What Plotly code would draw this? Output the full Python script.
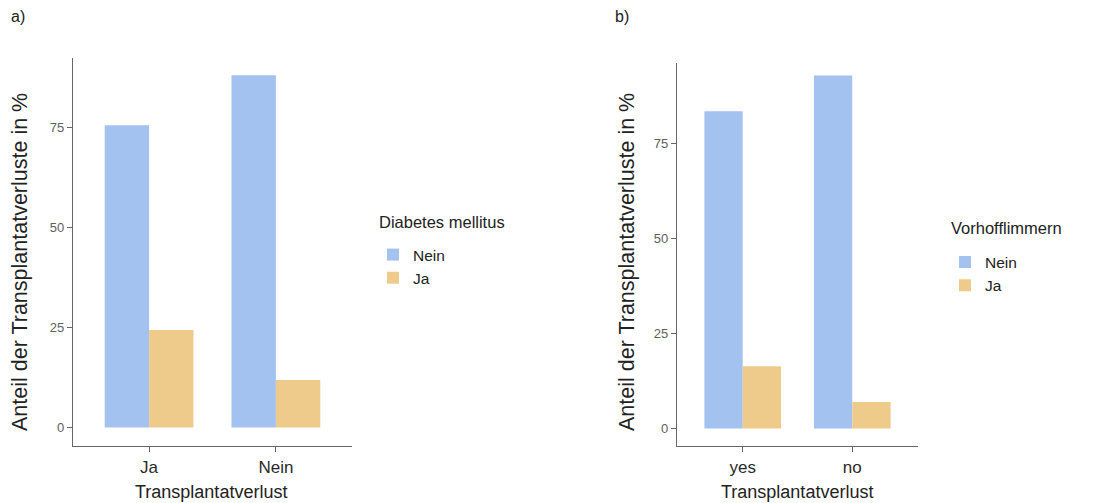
import plotly.graph_objects as go

# Data
cats_a = ["Ja", "Nein"]
nein_a = [75.6, 88.1]
ja_a = [24.4, 11.9]

cats_b = ["yes", "no"]
nein_b = [83.6, 93.0]
ja_b = [16.4, 7.0]

series_names = ["Nein", "Ja"]
legend_titles = ["Diabetes mellitus", "Vorhofflimmern"]
y_ticks = [0, 25, 50, 75]
panel_labels = ["a)", "b)"]
x_title = "Transplantatverlust"
y_title = "Anteil der Transplantatverluste in %"

BLUE = "#A4C2EF"
ORANGE = "#EFCB8B"
FONT = "Liberation Sans, Arial, sans-serif"
W, H = 1106, 503

fig = go.Figure()
fig.add_trace(go.Bar(x=cats_a, y=nein_a, name=series_names[0], marker_color=BLUE,
                     xaxis="x", yaxis="y", legend="legend"))
fig.add_trace(go.Bar(x=cats_a, y=ja_a, name=series_names[1], marker_color=ORANGE,
                     xaxis="x", yaxis="y", legend="legend"))
fig.add_trace(go.Bar(x=cats_b, y=nein_b, name=series_names[0], marker_color=BLUE,
                     xaxis="x2", yaxis="y2", legend="legend2"))
fig.add_trace(go.Bar(x=cats_b, y=ja_b, name=series_names[1], marker_color=ORANGE,
                     xaxis="x2", yaxis="y2", legend="legend2"))
for t in fig.data:
    t.marker.line.width = 0

axis_line = "#666666"
common_x = dict(showline=True, linecolor=axis_line, linewidth=1.3, ticks="outside",
                ticklen=5, tickcolor=axis_line, showgrid=False, zeroline=False,
                range=[-0.6, 1.6], tickfont=dict(size=17, color="#2A2A2A", family=FONT))
common_y = dict(showline=True, linecolor=axis_line, linewidth=1.3, ticks="outside",
                ticklen=5, tickcolor=axis_line, showgrid=False, zeroline=False,
                tickvals=y_ticks, tickfont=dict(size=13, color="#5E5E5E", family=FONT))

def px_x(p):
    return p / W

def px_y(p):
    return 1 - p / H

fig.update_layout(
    width=W, height=H,
    margin=dict(l=0, r=0, t=0, b=0),
    paper_bgcolor="white", plot_bgcolor="white",
    font=dict(family=FONT, color="#222222"),
    barmode="group", bargap=0.3, bargroupgap=0,
    xaxis=dict(domain=[px_x(73), px_x(352)], anchor="y", **common_x),
    yaxis=dict(domain=[px_y(446), px_y(58)], anchor="x",
               range=[-4.6, 92.4], **common_y),
    xaxis2=dict(domain=[px_x(677), px_x(918)], anchor="y2", **common_x),
    yaxis2=dict(domain=[px_y(446), px_y(63)], anchor="x2",
                range=[-4.6, 96.3], **common_y),
    legend=dict(x=px_x(373), y=px_y(238), xanchor="left", yanchor="top",
                font=dict(size=15.5, family=FONT), bgcolor="rgba(0,0,0,0)",
                tracegroupgap=0),
    legend2=dict(x=px_x(945), y=px_y(245.5), xanchor="left", yanchor="top",
                 font=dict(size=15.5, family=FONT), bgcolor="rgba(0,0,0,0)",
                 tracegroupgap=0),
    showlegend=True,
)

annotations = [
    dict(text=panel_labels[0], x=px_x(9), y=px_y(17), xanchor="left", yanchor="middle",
         font=dict(size=16)),
    dict(text=panel_labels[1], x=px_x(613), y=px_y(17), xanchor="left", yanchor="middle",
         font=dict(size=16)),
    dict(text=legend_titles[0], x=px_x(377), y=px_y(222), xanchor="left", yanchor="middle",
         font=dict(size=16.5)),
    dict(text=legend_titles[1], x=px_x(949), y=px_y(228), xanchor="left", yanchor="middle",
         font=dict(size=16.5)),
    dict(text=y_title, x=px_x(20), y=px_y(262), textangle=-90, xanchor="center",
         yanchor="middle", font=dict(size=21.5)),
    dict(text=y_title, x=px_x(627), y=px_y(262), textangle=-90, xanchor="center",
         yanchor="middle", font=dict(size=21.5)),
    dict(text=x_title, x=px_x(211), y=px_y(492), xanchor="center", yanchor="middle",
         font=dict(size=18)),
    dict(text=x_title, x=px_x(797), y=px_y(492), xanchor="center", yanchor="middle",
         font=dict(size=18)),
]
for a in annotations:
    a.update(xref="paper", yref="paper", showarrow=False)
fig.update_layout(annotations=annotations)

fig.write_html("out.html")
